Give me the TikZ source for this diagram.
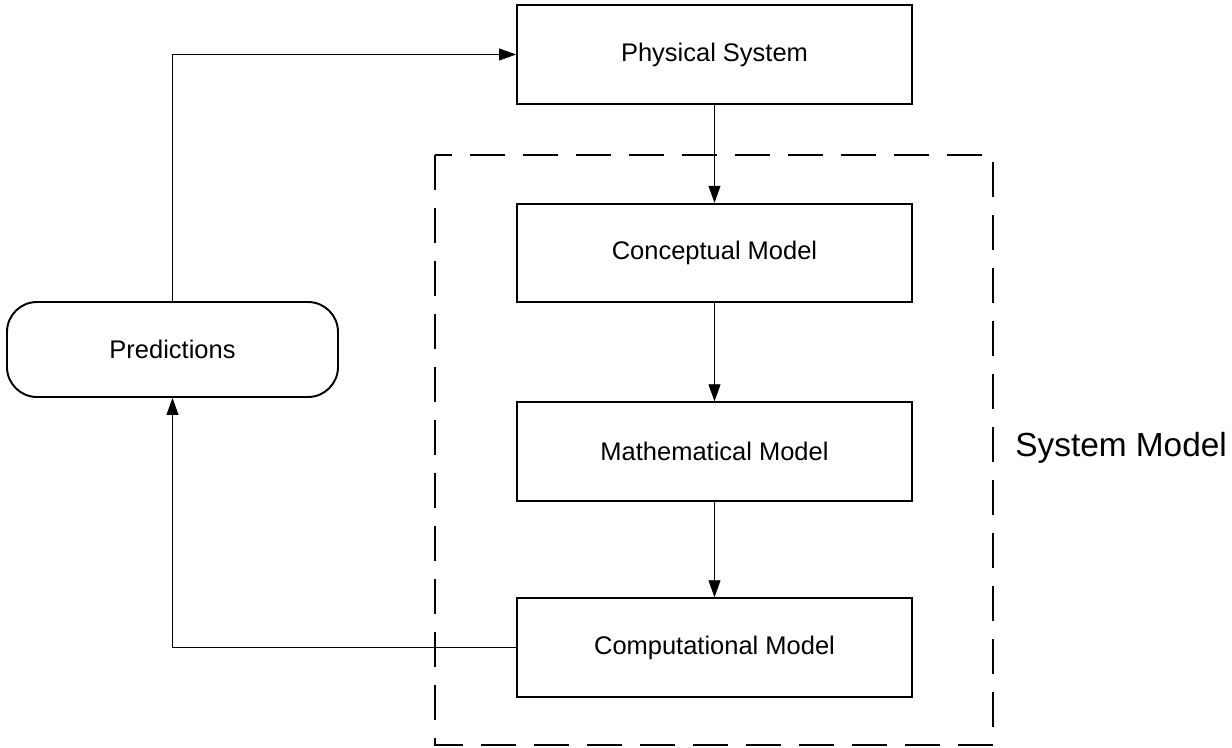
\documentclass[tikz,border=0pt]{standalone}
\usepackage{fontspec}
\setmainfont{Liberation Sans}
\usepackage{tikz}
\usetikzlibrary{arrows.meta,positioning}

\begin{document}
\begin{tikzpicture}[
  box/.style={draw, line width=1.1pt, minimum width=7.9cm, minimum height=1.97cm, align=center, font=\fontsize{14.5}{17}\selectfont},
  pill/.style={draw, line width=1.1pt, rounded corners=0.6cm, minimum width=6.62cm, minimum height=1.9cm, align=center, font=\fontsize{14.5}{17}\selectfont},
  arrow/.style={-{Triangle[length=3.4mm, width=2.4mm]}, line width=0.5pt},
  group/.style={draw, line width=1.1pt, dash pattern=on 0.7cm off 0.36cm},
]
  \useasboundingbox (0,0) rectangle (24.64,-14.96);

  \node[box] (phys) at (14.29,-1.09) {Physical System};
  \node[box] (concept) at (14.29,-5.06) {Conceptual Model};
  \node[box] (math) at (14.29,-9.03) {Mathematical Model};
  \node[box] (comp) at (14.29,-12.95) {Computational Model};
  \node[pill] (pred) at (3.45,-6.99) {Predictions};

  % system model frame
  \draw[group] (8.7,-3.1) rectangle (19.86,-14.9);
  \node[anchor=west, inner sep=0pt, font=\fontsize{19}{22}\selectfont] (sysmodel) at (20.3,-8.96) {System Model};

  \draw[arrow] (phys) -- (concept);
  \draw[arrow] (concept) -- (math);
  \draw[arrow] (math) -- (comp);
  \draw[arrow] (comp.west) -| (pred.south);
  \draw[arrow] (pred.north) |- (phys.west);
\end{tikzpicture}
\end{document}
